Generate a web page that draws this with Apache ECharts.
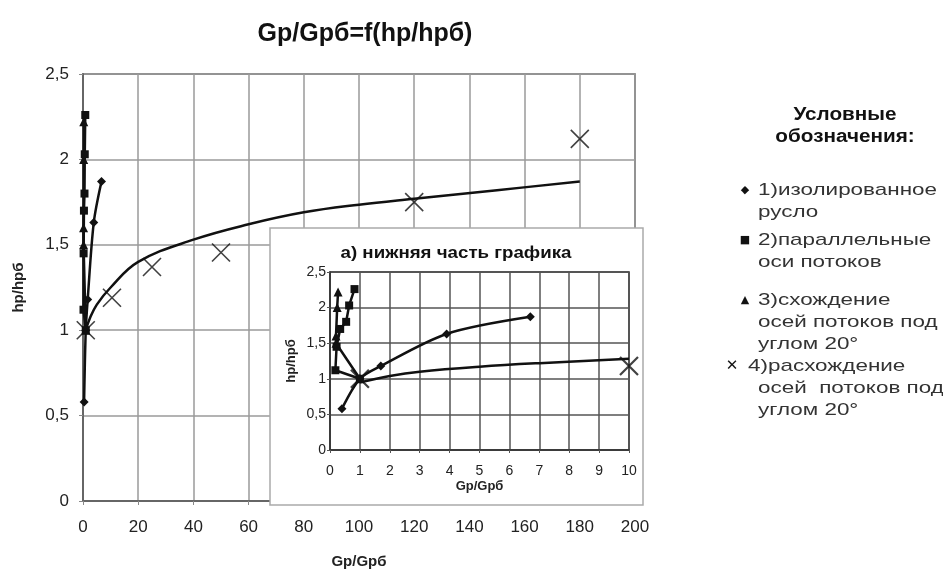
<!DOCTYPE html>
<html>
<head>
<meta charset="utf-8">
<script src="https://cdn.jsdelivr.net/npm/echarts@6/dist/echarts.min.js"></script>
<style>
  html, body { margin: 0; background: #fff; }
  #chart { width: 943px; height: 574px; }
</style>
</head>
<body>
<div id="chart"></div>
<script>
const FONT = '"Liberation Sans", Arial, sans-serif';

// x = Gp/Gpб, y = hp/hpб
const isolated = [[0.4, 0.58], [1, 1], [1.7, 1.18], [3.9, 1.63], [6.7, 1.87]];
const parallel = [[1, 1], [0.18, 1.12], [0.22, 1.45], [0.34, 1.7], [0.54, 1.8], [0.64, 2.03], [0.82, 2.26]];
const converging = [[1, 1], [0.2, 1.5], [0.2, 1.6], [0.24, 2.0], [0.27, 2.22]];
const diverging = [[1, 1], [10.5, 1.19], [25, 1.37], [50, 1.455], [120, 1.75], [180, 2.12]];
const divergingTrend = [[1, 1], [2.5, 1.07], [5, 1.15], [10, 1.25], [20, 1.4], [40, 1.53], [60, 1.62],
  [80, 1.69], [100, 1.735], [120, 1.77], [150, 1.82], [180, 1.87]];
// inset "а)": the same points, x from 0 to 10
const insetDiverging = [[1, 1], [10, 1.18]];
const insetTrend = [[1, 0.95], [2, 1.04], [3, 1.1], [5, 1.17], [7, 1.22], [10, 1.28]];

const yTicks = { min: 0, max: 2.5, interval: 0.5 };
const mainX = { min: 0, max: 200, interval: 20 };
const insetX = { min: 0, max: 10, interval: 1 };

const legendItems = [
  { mark: '◆', lines: ['1)изолированное', 'русло'] },
  { mark: '■', lines: ['2)параллельные', 'оси потоков'] },
  { mark: '▲', lines: ['3)схождение', 'осей потоков под', 'углом 20°'] },
  { mark: '✕', lines: ['4)расхождение', 'осей  потоков под', 'углом 20°'] },
];
const legendTop = [190, 240, 300, 366];

const comma = (v) => String(v).replace('.', ',');
const X_MARK = 'path://M0,0L20,20M20,0L0,20';

const chart = echarts.init(document.getElementById('chart'));

const lineSeries = (data, symbol, size, axis, extra) => Object.assign({
  type: 'line',
  data,
  xAxisIndex: axis,
  yAxisIndex: axis,
  symbol,
  symbolSize: size,
  lineStyle: { color: '#111', width: 2.5 },
  itemStyle: { color: '#111' },
  z: axis ? 12 : 3,
  animation: false,
}, extra || {});

const xSeries = (data, axis) => ({
  type: 'scatter',
  data,
  xAxisIndex: axis,
  yAxisIndex: axis,
  symbol: X_MARK,
  symbolSize: 18,
  itemStyle: { color: 'rgba(0,0,0,0)', borderColor: '#111', borderWidth: axis ? 2.2 : 1.6 },
  z: axis ? 12 : 3,
  animation: false,
});

// stretched text, the source picture is wider than plain Arial
const wideText = (text, x, y, font, fill, sx, align) => ({
  type: 'text', x, y, scaleX: sx, z: 20,
  style: { text, font, fill, align: align || 'left', verticalAlign: 'middle' },
});

const legendGraphics = [
  wideText('Условные', 845, 115, 'bold 18px ' + FONT, '#111', 1.15, 'center'),
  wideText('обозначения:', 845, 137, 'bold 18px ' + FONT, '#111', 1.15, 'center'),
];
legendItems.forEach((item, i) => {
  const big = i === 3;
  legendGraphics.push({
    type: 'text', x: big ? 732 : 745, y: legendTop[i], z: 20,
    style: {
      text: item.mark, font: (big ? '15px' : '11px') + ' "DejaVu Sans"', fill: '#111',
      align: 'center', verticalAlign: 'middle',
    },
  });
  item.lines.forEach((line, j) => {
    legendGraphics.push(wideText(line, (j === 0 && big) ? 748 : 758, legendTop[i] + j * 22,
      '17px ' + FONT, '#333', 1.32));
  });
});

chart.setOption({
  backgroundColor: '#fff',
  animation: false,
  textStyle: { fontFamily: FONT },
  title: {
    text: 'Gp/Gpб=f(hp/hpб)',
    left: 360,
    top: 17,
    textAlign: 'center',
    textStyle: { fontSize: 25, fontWeight: 'bold', color: '#111', fontFamily: FONT },
  },
  grid: [
    { left: 83, right: 308, top: 74, bottom: 72, show: true, borderColor: '#555', borderWidth: 1.5 },
    { left: 330, right: 314, top: 272, bottom: 124, show: true, borderColor: '#222', borderWidth: 1.5, z: 10 },
  ],
  xAxis: [
    {
      type: 'value', gridIndex: 0, ...mainX,
      name: 'Gp/Gpб', nameLocation: 'middle', nameGap: 53,
      nameTextStyle: { fontSize: 15, fontWeight: 'bold', color: '#222' },
      axisLine: { show: true, lineStyle: { color: '#666', width: 2 } },
      axisTick: { show: true, length: 4, lineStyle: { color: '#888' } },
      axisLabel: { fontSize: 17, color: '#222', margin: 18 },
      splitLine: { lineStyle: { color: '#9a9a9a', width: 1.5 } },
    },
    {
      type: 'value', gridIndex: 1, ...insetX,
      name: 'Gp/Gpб', nameLocation: 'middle', nameGap: 30,
      nameTextStyle: { fontSize: 13, fontWeight: 'bold', color: '#222' },
      axisLine: { show: true, lineStyle: { color: '#333', width: 1.5 } },
      axisTick: { show: true, length: 3, lineStyle: { color: '#555' } },
      axisLabel: { fontSize: 14, color: '#222', margin: 14 },
      splitLine: { lineStyle: { color: '#555', width: 1.5 } },
      z: 10,
    },
  ],
  yAxis: [
    {
      type: 'value', gridIndex: 0, ...yTicks,
      name: 'hp/hpб', nameLocation: 'middle', nameGap: 57,
      nameTextStyle: { fontSize: 15, fontWeight: 'bold', color: '#222' },
      axisLine: { show: true, lineStyle: { color: '#666', width: 2 } },
      axisTick: { show: true, length: 4, lineStyle: { color: '#888' } },
      axisLabel: { fontSize: 17, color: '#222', margin: 14, formatter: comma },
      splitLine: { lineStyle: { color: '#9a9a9a', width: 1.5 } },
    },
    {
      type: 'value', gridIndex: 1, ...yTicks,
      name: 'hp/hpб', nameLocation: 'middle', nameGap: 32,
      nameTextStyle: { fontSize: 13, fontWeight: 'bold', color: '#222' },
      axisLine: { show: true, lineStyle: { color: '#333', width: 1.5 } },
      axisTick: { show: true, length: 3, lineStyle: { color: '#555' } },
      axisLabel: { fontSize: 14, color: '#222', margin: 4, formatter: comma },
      splitLine: { lineStyle: { color: '#555', width: 1.5 } },
      z: 10,
    },
  ],
  graphic: [
    {
      type: 'rect', z: 5,
      shape: { x: 270, y: 228, width: 373, height: 277 },
      style: { fill: '#fff', stroke: '#aaa', lineWidth: 1.5 },
    },
    wideText('а) нижняя часть графика', 456, 253, 'bold 17px ' + FONT, '#111', 1.1, 'center'),
    ...legendGraphics,
  ],
  series: [
    lineSeries(isolated, 'diamond', 9, 0, { smooth: 0.3 }),
    lineSeries(parallel, 'rect', 8, 0),
    lineSeries(converging, 'triangle', 9, 0),
    xSeries(diverging, 0),
    lineSeries(divergingTrend, 'none', 0, 0, { smooth: 0.4 }),

    lineSeries(isolated, 'diamond', 9, 1, { smooth: 0.3 }),
    lineSeries(parallel, 'rect', 8, 1),
    lineSeries(converging, 'triangle', 9, 1),
    xSeries(insetDiverging, 1),
    lineSeries(insetTrend, 'none', 0, 1, { smooth: 0.4 }),
  ],
});
</script>
</body>
</html>
